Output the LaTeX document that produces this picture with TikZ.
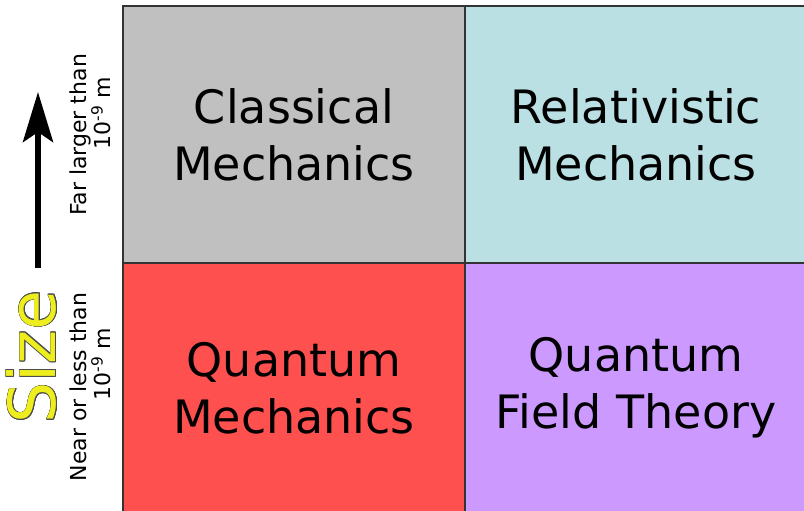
\documentclass[tikz,border=0pt]{standalone}
\usepackage{fontspec}
\setmainfont{DejaVu Sans}
\usepackage{contour}
\usetikzlibrary{arrows.meta,positioning}
\definecolor{cellgray}{HTML}{C0C0C0}
\definecolor{cellteal}{HTML}{BAE0E3}
\definecolor{cellred}{HTML}{FF5050}
\definecolor{cellpurple}{HTML}{CC99FF}
\definecolor{gridline}{HTML}{333333}
\definecolor{sizeyellow}{HTML}{EEEE1E}
\contourlength{0.7pt}

\begin{document}
\begin{tikzpicture}[
  x=1pt, y=-1pt,
  cell/.style={draw=gridline, line width=1.8pt, outer sep=0pt, inner sep=0pt, minimum width=342pt, align=center, font=\fontsize{46}{57}\selectfont},
  sidelabel/.style={rotate=90, align=center, inner sep=0pt, font=\fontsize{22}{24}\selectfont}
]
  \useasboundingbox (0,0) rectangle (804,511);

  % Quadrants
  \node[cell, fill=cellgray, minimum height=257pt, anchor=north west] (classical) at (123, 6) {Classical\\Mechanics};
  \node[cell, fill=cellteal, minimum height=257pt, right=0pt of classical] (relativistic) {Relativistic\\Mechanics};
  \node[cell, fill=cellred, minimum height=250pt, below=0pt of classical] (quantum) {Quantum\\Mechanics};
  \node[cell, fill=cellpurple, minimum height=250pt, below=0pt of relativistic] (qft) {Quantum\\Field Theory};

  % Size axis
  \coordinate (arrowfoot) at (38, 268);
  \coordinate (arrowtip) at (38, 92);
  \draw[-{Stealth[length=50pt, width=30pt, inset=10pt]}, line width=6pt] (arrowfoot) -- (arrowtip);

  \node[sidelabel] (farlabel) at (90, 135) {Far larger than\\\hspace*{44pt}10\textsuperscript{-9} m};
  \node[sidelabel] (nearlabel) at (90, 387) {Near or less than\\\hspace*{46pt}10\textsuperscript{-9} m};
  \node[rotate=90, inner sep=0pt, font=\fontsize{65}{70}\selectfont] (sizelabel) at (32, 357) {\contour{black!70}{\color{sizeyellow}Size}};
\end{tikzpicture}
\end{document}
